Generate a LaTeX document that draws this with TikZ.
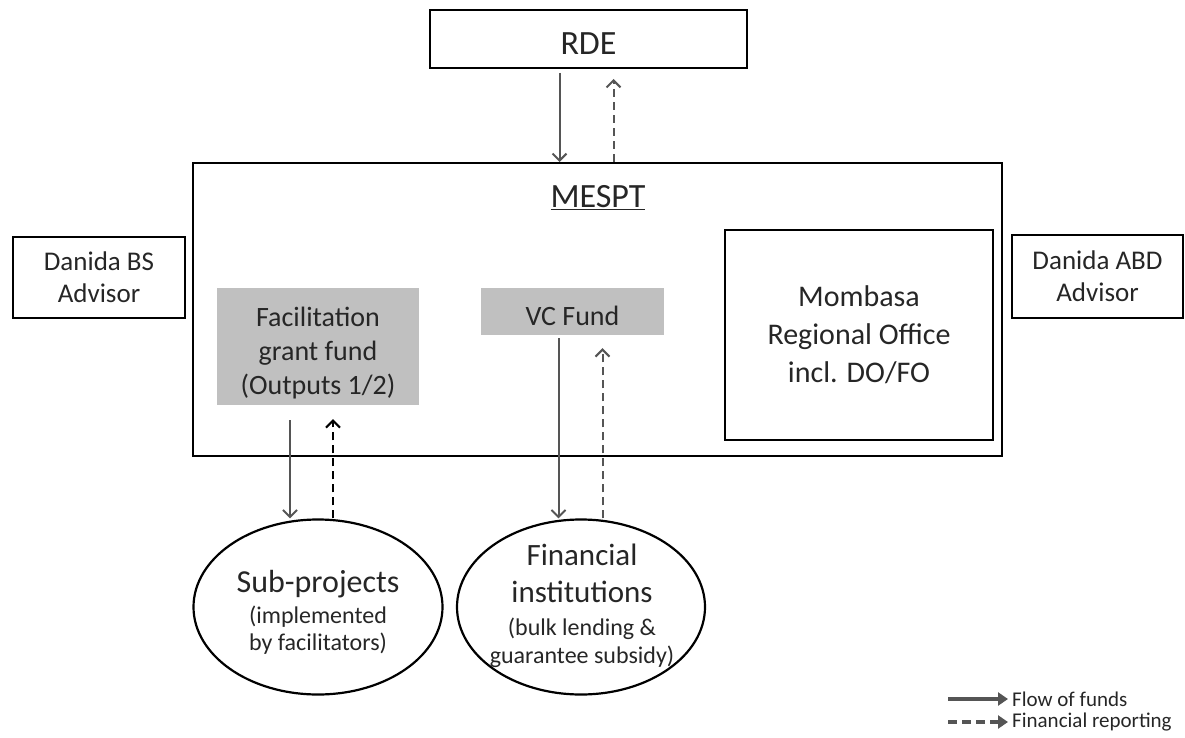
\documentclass[tikz,border=0pt]{standalone}
\usepackage{fontspec}
\setmainfont{Carlito}
\usetikzlibrary{arrows.meta,shapes.geometric}
\definecolor{fundgrey}{HTML}{555555}
\definecolor{fillgrey}{HTML}{C0C0C0}
\definecolor{txt}{HTML}{262626}
\newcommand{\fsz}[2]{\fontsize{#1}{#2}\selectfont}
\tikzset{
  box/.style={draw, line width=2pt, inner sep=0pt, text=txt, align=center},
  fundbox/.style={fill=fillgrey, inner sep=0pt, text=txt, align=center},
  oval/.style={ellipse, draw, line width=2.2pt, inner sep=0pt},
  lbl/.style={text=txt, align=center, inner sep=0pt},
  fund/.style={draw=fundgrey, line width=2pt, -{Straight Barb[length=7pt,width=14pt,line width=2pt]}},
  report/.style={fund, dash pattern=on 8pt off 5pt},
  legarrow/.style={draw=fundgrey, line width=3.5pt, -{Triangle[length=10pt,width=13pt]}, shorten >=4pt},
}
\begin{document}
\begin{tikzpicture}[x=1pt,y=-1pt]
\useasboundingbox (0,0) rectangle (1185,738);
%boxes
\node[box, minimum width=317pt, minimum height=58pt, font=\fsz{34}{40}, text height=32pt, text depth=0pt] (rde) at (588.5,39) {RDE};
\node[box, minimum width=809pt, minimum height=293pt] (mespt) at (597.5,309.5) {};
\node[lbl, font=\fsz{34}{40}] (mesptlbl) at (598,198) {\underline{MESPT}};
\node[box, minimum width=172pt, minimum height=81pt, font=\fsz{27}{32}] (bs) at (99,277.5) {Danida BS\\Advisor};
\node[box, minimum width=171pt, minimum height=83pt, font=\fsz{27}{32}] (abd) at (1097.5,276.5) {Danida ABD\\Advisor};
\node[box, minimum width=268pt, minimum height=210pt, font=\fsz{30}{38}] (mro) at (859,335) {Mombasa\\Regional Office\\incl. DO/FO};
\node[fundbox, minimum width=202pt, minimum height=117pt] (fac) at (318,346.5) {};
\node[lbl, font=\fsz{28}{34}] (factxt) at (318,353) {Facilitation\\grant fund\\(Outputs 1/2)};
\node[fundbox, minimum width=183pt, minimum height=47pt, font=\fsz{28}{34}, text height=28pt, text depth=0pt] (vc) at (572.5,311.5) {VC Fund};
%ellipses
\node[oval, minimum width=249pt, minimum height=175pt] (sub) at (318,607) {};
\node[lbl, font=\fsz{32}{36}] (subtitle) at (318,584) {Sub-projects};
\node[lbl, font=\fsz{24}{27}] (subnote) at (318,630) {(implemented\\by facilitators)};
\node[oval, minimum width=248pt, minimum height=175pt] (fin) at (581,607) {};
\node[lbl, font=\fsz{31}{37}] (fintitle) at (582,573) {Financial\\institutions};
\node[lbl, font=\fsz{24}{28}] (finnote) at (582,643) {(bulk lending \&\\guarantee subsidy)};
%flows
\draw[fund, shorten <=4pt] ([xshift=-29pt]rde.south) -- ([xshift=-29pt]rde.south |- mespt.north);
\draw[report, shorten >=10pt] ([xshift=25pt]rde.south |- mespt.north) -- ([xshift=25pt]rde.south);
\draw[fund, shorten <=15pt] ([xshift=-28pt]fac.south) -- ([xshift=-28pt]fac.south |- sub.north);
\draw[report, draw=black, shorten >=14pt] ([xshift=15pt]fac.south |- sub.north) -- ([xshift=15pt]fac.south);
\draw[fund, shorten <=3pt] ([xshift=-14pt]vc.south) -- ([xshift=-14pt]vc.south |- fin.north);
\draw[report, shorten >=13pt] ([xshift=30pt]vc.south |- fin.north) -- ([xshift=30pt]vc.south);
%legend
\node[lbl, anchor=west, font=\fsz{21}{24}] (lfund) at (1012,699) {Flow of funds};
\node[lbl, anchor=west, font=\fsz{21}{24}] (lrep) at (1012,722) {Financial reporting};
\coordinate (lfunda) at (948,699);
\coordinate (lrepa) at (948,722);
\draw[legarrow] (lfunda) -- (lfund.west);
\draw[legarrow, dash pattern=on 9pt off 5pt] (lrepa) -- (lrep.west);
\end{tikzpicture}
\end{document}
